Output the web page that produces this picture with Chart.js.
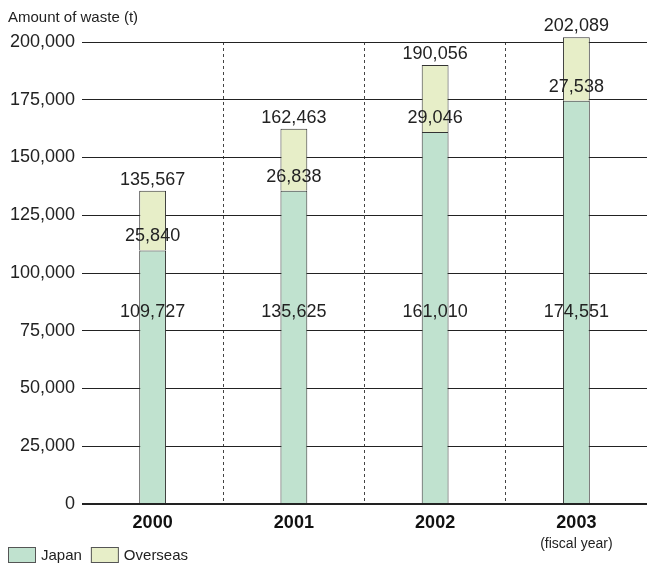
<!DOCTYPE html>
<html>
<head>
<meta charset="utf-8">
<script src="https://cdn.jsdelivr.net/npm/chart.js@4/dist/chart.umd.min.js"></script>
<style>
  html, body { margin: 0; padding: 0; background: #fff; }
  #wrap { width: 647px; height: 564px; }
</style>
</head>
<body>
<div id="wrap"><canvas id="wasteChart" width="647" height="564"></canvas></div>
<script>
const categories = ['2000', '2001', '2002', '2003'];
const japanValues = [109727, 135625, 161010, 174551];
const overseasValues = [25840, 26838, 29046, 27538];
const totalValues = [135567, 162463, 190056, 202089];
const yTickMax = 200000;
const yTickStep = 25000;

const FONT = '"Liberation Sans", Arial, Helvetica, sans-serif';
const fmt = v => v.toLocaleString('en-US');

// value labels, axis title, "(fiscal year)" note and the legend
const annotations = {
    id: 'annotations',
    afterDatasetsDraw(chart) {
        const ctx = chart.ctx;
        const y = chart.scales.y;
        const japanMeta = chart.getDatasetMeta(0);
        const overseasMeta = chart.getDatasetMeta(1);
        ctx.save();
        ctx.fillStyle = '#222';
        ctx.textAlign = 'center';
        ctx.textBaseline = 'middle';
        ctx.font = '18px ' + FONT;
        japanMeta.data.forEach((bar, i) => {
            ctx.fillText(fmt(japanValues[i]), bar.x, y.getPixelForValue(83000));
            ctx.fillText(fmt(overseasValues[i]), bar.x, bar.y - 14);
        });
        overseasMeta.data.forEach((bar, i) => {
            ctx.fillText(fmt(totalValues[i]), bar.x, bar.y - 11);
        });
        ctx.restore();
    },
    afterDraw(chart) {
        const ctx = chart.ctx;
        const x = chart.scales.x;
        ctx.save();
        ctx.fillStyle = '#222';
        ctx.textBaseline = 'middle';
        ctx.textAlign = 'left';
        ctx.font = '15px ' + FONT;
        ctx.fillText('Amount of waste (t)', 8, 18);
        ctx.textAlign = 'center';
        ctx.font = '14px ' + FONT;
        ctx.fillText('(fiscal year)', x.getPixelForValue(3), 544);

        // legend
        ctx.textAlign = 'left';
        ctx.font = '15px ' + FONT;
        let lx = 8;
        chart.data.datasets.forEach(ds => {
            ctx.fillStyle = ds.backgroundColor;
            ctx.fillRect(lx, 547, 28, 16);
            ctx.strokeStyle = '#555';
            ctx.lineWidth = 1;
            ctx.strokeRect(lx + 0.5, 547.5, 27, 15);
            ctx.fillStyle = '#222';
            ctx.fillText(ds.label, lx + 33, 556);
            lx += 33 + ctx.measureText(ds.label).width + 9;
        });
        ctx.restore();
    }
};

new Chart(document.getElementById('wasteChart').getContext('2d'), {
    type: 'bar',
    data: {
        labels: categories,
        datasets: [{
            label: 'Japan',
            data: japanValues,
            backgroundColor: '#c0e2cf',
            borderColor: '#333',
            borderWidth: 1,
            clip: false
        }, {
            label: 'Overseas',
            data: overseasValues,
            backgroundColor: '#e7eec8',
            borderColor: '#333',
            borderWidth: 1,
            clip: false
        }]
    },
    options: {
        responsive: false,
        animation: false,
        categoryPercentage: 1,
        barPercentage: 0.19,
        layout: { padding: { top: 42, right: 0, bottom: 0, left: 0 } },
        plugins: {
            tooltip: { enabled: false },
            legend: { display: false }
        },
        scales: {
            x: {
                stacked: true,
                offset: true,
                border: { display: false, dash: [3, 3] },
                grid: {
                    offset: true,
                    drawTicks: false,
                    color: c => (c.type === 'tick' && c.index > 0) ? '#444' : 'transparent'
                },
                ticks: {
                    color: '#111',
                    padding: 8,
                    font: { family: FONT, size: 18, weight: 'bold' }
                },
                afterFit: s => { s.height = 60; }
            },
            y: {
                stacked: true,
                min: 0,
                max: yTickMax,
                border: { display: false },
                grid: {
                    drawTicks: false,
                    color: '#222',
                    lineWidth: c => c.tick && c.tick.value === 0 ? 2 : 1
                },
                ticks: {
                    stepSize: yTickStep,
                    padding: 7,
                    color: '#222',
                    font: { family: FONT, size: 18 },
                    callback: v => fmt(v)
                },
                afterFit: s => { s.width = 82; }
            }
        }
    },
    plugins: [annotations]
});
</script>
</body>
</html>
